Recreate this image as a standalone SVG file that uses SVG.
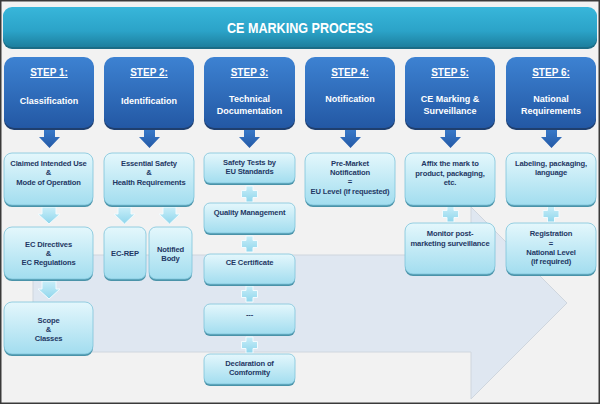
<svg xmlns="http://www.w3.org/2000/svg" width="600" height="404" viewBox="0 0 600 404">
<defs>
<linearGradient id="gTitle" x1="0" y1="0" x2="0" y2="1">
<stop offset="0" stop-color="#38b6da"/><stop offset="0.6" stop-color="#2ba3c8"/><stop offset="1" stop-color="#1d7f9e"/>
</linearGradient>
<linearGradient id="gStep" x1="0" y1="0" x2="0" y2="1">
<stop offset="0" stop-color="#3d82d2"/><stop offset="1" stop-color="#2358a4"/>
</linearGradient>
<linearGradient id="gLight" x1="0" y1="0" x2="0" y2="1">
<stop offset="0" stop-color="#e4f7fc"/><stop offset="1" stop-color="#a2ddef"/>
</linearGradient>
<linearGradient id="gArrow" x1="0" y1="0" x2="0" y2="1">
<stop offset="0" stop-color="#3a7ccc"/><stop offset="1" stop-color="#2459a6"/>
</linearGradient>
<linearGradient id="gLArrow" x1="0" y1="0" x2="0" y2="1">
<stop offset="0" stop-color="#c9eef9"/><stop offset="1" stop-color="#8fd6ec"/>
</linearGradient>
</defs>
<style>
.sh{fill:#1f3f6e}
.st{fill:url(#gStep)}
.lsh{fill:#4a93a9}
.lb{fill:url(#gLight);stroke:#7fc4da;stroke-width:0.8}
.tw{font-family:"Liberation Sans",Arial,sans-serif;font-weight:bold;fill:#ffffff;text-anchor:middle;font-size:10px}
.tu{text-decoration:underline}
.td{font-family:"Liberation Sans",Arial,sans-serif;font-weight:bold;fill:#1f3864;text-anchor:middle;font-size:7.6px;letter-spacing:-0.15px}
.da{fill:url(#gArrow)}
.la{fill:url(#gLArrow);stroke:#f2fbfe;stroke-width:1}
</style>
<rect x="0" y="0" width="600" height="404" fill="#f2f2f2"/>
<rect x="0.75" y="0.75" width="598.5" height="402.5" fill="none" stroke="#3a3a3a" stroke-width="1.5"/>
<!-- background arrow -->
<polygon points="33,255 471,255 471,207 567,303 471,399 471,352 33,352" fill="#dfe7f1" stroke="#cfd6de" stroke-width="1"/>
<!-- title -->
<g id="title">
<rect x="3" y="9" width="594" height="40" rx="9" fill="#1b6c86"/>
<rect x="3" y="7" width="594" height="40" rx="9" fill="url(#gTitle)"/>
<text x="300" y="33" class="tw" style="font-size:15px" textLength="146" lengthAdjust="spacingAndGlyphs">CE MARKING PROCESS</text>
</g>
<!-- connectors -->
<g id="connectors">
<g class="da">
<polygon points="44,128 55,128 55,137 60,137 49.5,148 39,137 44,137"/>
<polygon points="144,128 155,128 155,137 160,137 149.5,148 139,137 144,137"/>
<polygon points="244,128 255,128 255,137 260,137 249.5,148 239,137 244,137"/>
<polygon points="345,128 356,128 356,137 361,137 350.5,148 340,137 345,137"/>
<polygon points="445,128 456,128 456,137 461,137 450.5,148 440,137 445,137"/>
<polygon points="546,128 557,128 557,137 562,137 551.5,148 541,137 546,137"/>
</g>
<g class="la">
<polygon points="42,207 56,207 56,214 60,214 49,224 38,214 42,214"/>
<polygon points="42,281 56,281 56,289 60,289 49,299 38,289 42,289"/>
<polygon points="118,207 131,207 131,214 135,214 124.5,224 114,214 118,214"/>
<polygon points="163,207 176,207 176,214 180,214 169.5,224 159,214 163,214"/>
<path d="M246,186h7v4.5h4.5v7h-4.5v4.5h-7v-4.5h-4.5v-7h4.5z"/>
<path d="M246,236h7v4.5h4.5v7h-4.5v4.5h-7v-4.5h-4.5v-7h4.5z"/>
<path d="M246,286h7v4.5h4.5v7h-4.5v4.5h-7v-4.5h-4.5v-7h4.5z"/>
<path d="M246,337h7v4.5h4.5v7h-4.5v4.5h-7v-4.5h-4.5v-7h4.5z"/>
<path d="M447,206h7v4.5h4.5v7h-4.5v4.5h-7v-4.5h-4.5v-7h4.5z"/>
<path d="M547.5,206h7v4.5h4.5v7h-4.5v4.5h-7v-4.5h-4.5v-7h4.5z"/>
</g>
</g>
<!-- step headers -->
<g id="step1">
<rect x="4" y="59" width="90" height="71" rx="10" class="sh"/>
<rect x="4" y="57" width="90" height="71" rx="10" class="st"/>
<text x="49" y="76" class="tw tu">STEP 1:</text>
<text x="49" y="104" class="tw" style="font-size:9px">Classification</text>
</g>
<g id="step2">
<rect x="104" y="59" width="90" height="71" rx="10" class="sh"/>
<rect x="104" y="57" width="90" height="71" rx="10" class="st"/>
<text x="149" y="76" class="tw tu">STEP 2:</text>
<text x="149" y="104" class="tw" style="font-size:9px">Identification</text>
</g>
<g id="step3">
<rect x="204" y="59" width="91" height="71" rx="10" class="sh"/>
<rect x="204" y="57" width="91" height="71" rx="10" class="st"/>
<text x="249.5" y="76" class="tw tu">STEP 3:</text>
<text x="249.5" y="102" class="tw" style="font-size:9px">Technical</text>
<text x="249.5" y="114" class="tw" style="font-size:9px">Documentation</text>
</g>
<g id="step4">
<rect x="305" y="59" width="90" height="71" rx="10" class="sh"/>
<rect x="305" y="57" width="90" height="71" rx="10" class="st"/>
<text x="350" y="76" class="tw tu">STEP 4:</text>
<text x="350" y="102" class="tw" style="font-size:9px">Notification</text>
</g>
<g id="step5">
<rect x="405" y="59" width="90" height="71" rx="10" class="sh"/>
<rect x="405" y="57" width="90" height="71" rx="10" class="st"/>
<text x="450" y="76" class="tw tu">STEP 5:</text>
<text x="450" y="102" class="tw" style="font-size:9px">CE Marking &amp;</text>
<text x="450" y="114" class="tw" style="font-size:9px">Surveillance</text>
</g>
<g id="step6">
<rect x="506" y="59" width="90" height="71" rx="10" class="sh"/>
<rect x="506" y="57" width="90" height="71" rx="10" class="st"/>
<text x="551" y="76" class="tw tu">STEP 6:</text>
<text x="551" y="102" class="tw" style="font-size:9px">National</text>
<text x="551" y="114" class="tw" style="font-size:9px">Requirements</text>
</g>
<!-- step 1 column -->
<g id="claimed">
<rect x="4" y="155" width="89" height="52" rx="8" class="lsh"/>
<rect x="4" y="153" width="89" height="52" rx="8" class="lb"/>
<text x="48.5" y="166" class="td">Claimed Intended  Use</text>
<text x="48.5" y="175" class="td">&amp;</text>
<text x="48.5" y="185" class="td">Mode of Operation</text>
</g>
<g id="directives">
<rect x="4" y="229" width="89" height="52" rx="8" class="lsh"/>
<rect x="4" y="227" width="89" height="52" rx="8" class="lb"/>
<text x="48.5" y="247" class="td">EC Directives</text>
<text x="48.5" y="256" class="td">&amp;</text>
<text x="48.5" y="265" class="td">EC Regulations</text>
</g>
<g id="scope">
<rect x="4" y="304" width="89" height="52" rx="8" class="lsh"/>
<rect x="4" y="302" width="89" height="52" rx="8" class="lb"/>
<text x="48.5" y="323" class="td">Scope</text>
<text x="48.5" y="332" class="td">&amp;</text>
<text x="48.5" y="341" class="td">Classes</text>
</g>
<!-- step 2 column -->
<g id="essential">
<rect x="104" y="155" width="90" height="52" rx="8" class="lsh"/>
<rect x="104" y="153" width="90" height="52" rx="8" class="lb"/>
<text x="149" y="166" class="td">Essential  Safety</text>
<text x="149" y="175" class="td">&amp;</text>
<text x="149" y="185" class="td">Health Requirements</text>
</g>
<g id="ecrep">
<rect x="104" y="229" width="42" height="52" rx="7" class="lsh"/>
<rect x="104" y="227" width="42" height="52" rx="7" class="lb"/>
<text x="125" y="256" class="td">EC-REP</text>
</g>
<g id="notified">
<rect x="149" y="229" width="43" height="52" rx="7" class="lsh"/>
<rect x="149" y="227" width="43" height="52" rx="7" class="lb"/>
<text x="170.5" y="252" class="td">Notified</text>
<text x="170.5" y="261" class="td">Body</text>
</g>
<!-- step 3 column -->
<g id="safety">
<rect x="204" y="155" width="91" height="30" rx="6" class="lsh"/>
<rect x="204" y="153" width="91" height="30" rx="6" class="lb"/>
<text x="249.5" y="165" class="td">Safety Tests by</text>
<text x="249.5" y="174" class="td">EU Standards</text>
</g>
<g id="quality">
<rect x="204" y="205" width="91" height="30" rx="6" class="lsh"/>
<rect x="204" y="203" width="91" height="30" rx="6" class="lb"/>
<text x="249.5" y="215" class="td">Quality Management</text>
</g>
<g id="certificate">
<rect x="204" y="256" width="91" height="30" rx="6" class="lsh"/>
<rect x="204" y="254" width="91" height="30" rx="6" class="lb"/>
<text x="249.5" y="265" class="td">CE Certificate</text>
</g>
<g id="dashes">
<rect x="204" y="306" width="91" height="30" rx="6" class="lsh"/>
<rect x="204" y="304" width="91" height="30" rx="6" class="lb"/>
<text x="249.5" y="317" class="td">---</text>
</g>
<g id="declaration">
<rect x="204" y="356" width="91" height="30" rx="6" class="lsh"/>
<rect x="204" y="354" width="91" height="30" rx="6" class="lb"/>
<text x="249.5" y="366" class="td">Declaration of</text>
<text x="249.5" y="375" class="td">Comformity</text>
</g>
<!-- step 4 column -->
<g id="premarket">
<rect x="305" y="155" width="90" height="52" rx="8" class="lsh"/>
<rect x="305" y="153" width="90" height="52" rx="8" class="lb"/>
<text x="350" y="165.5" class="td">Pre-Market</text>
<text x="350" y="175" class="td">Notification</text>
<text x="350" y="184" class="td">=</text>
<text x="350" y="193.5" class="td">EU Level (if requested)</text>
</g>
<!-- step 5 column -->
<g id="affix">
<rect x="405" y="155" width="90" height="52" rx="8" class="lsh"/>
<rect x="405" y="153" width="90" height="52" rx="8" class="lb"/>
<text x="450" y="166" class="td">Affix the mark to</text>
<text x="450" y="176" class="td">product,  packaging,</text>
<text x="450" y="185" class="td">etc.</text>
</g>
<g id="monitor">
<rect x="405" y="225" width="90" height="51" rx="8" class="lsh"/>
<rect x="405" y="223" width="90" height="51" rx="8" class="lb"/>
<text x="450" y="236" class="td">Monitor post-</text>
<text x="450" y="246" class="td">marketing surveillance</text>
</g>
<!-- step 6 column -->
<g id="labeling">
<rect x="506" y="155" width="90" height="52" rx="8" class="lsh"/>
<rect x="506" y="153" width="90" height="52" rx="8" class="lb"/>
<text x="551" y="166" class="td">Labeling, packaging,</text>
<text x="551" y="175" class="td">language</text>
</g>
<g id="registration">
<rect x="506" y="225" width="90" height="51" rx="8" class="lsh"/>
<rect x="506" y="223" width="90" height="51" rx="8" class="lb"/>
<text x="551" y="236" class="td">Registration</text>
<text x="551" y="246" class="td">=</text>
<text x="551" y="255" class="td">National Level</text>
<text x="551" y="264" class="td">(if required)</text>
</g>
</svg>
